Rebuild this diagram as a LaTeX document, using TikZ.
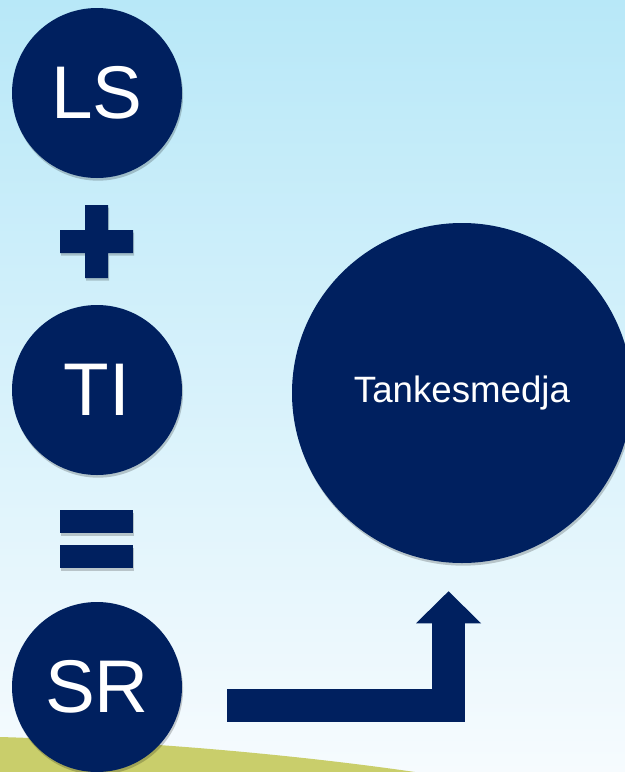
\documentclass[tikz,border=0pt]{standalone}
\usepackage{fontspec}
\setmainfont{Liberation Sans}
\usetikzlibrary{arrows.meta,shadows}
\definecolor{navy}{HTML}{00205F}
\definecolor{skytop}{HTML}{B8E8F8}
\definecolor{skybot}{HTML}{F6FBFE}
\definecolor{hill}{HTML}{C9CE6B}
\begin{document}
\begin{tikzpicture}[x=0.75pt,y=-0.75pt,
	ball/.style={circle,fill=navy,text=white,inner sep=0pt,minimum size=127.5pt,font=\fontsize{56}{60}\selectfont,drop shadow={fill=black,opacity=0.2,shadow xshift=0.8pt,shadow yshift=-2pt}},
	bigball/.style={ball,minimum size=255pt,font=\fontsize{27.5}{30}\selectfont},
	sign/.style={fill=navy,drop shadow={fill=black,opacity=0.2,shadow xshift=0.8pt,shadow yshift=-2pt}},
	bigarrow/.style={draw=navy,line width=24.75pt,line join=miter,-{Triangle[width=48.75pt,length=24pt,line width=0pt]}}]
	\useasboundingbox (0,0) rectangle (625,772);
	\shade[top color=skytop,bottom color=skybot] (0,0) rectangle (625,772);
	\fill[hill] (0,737) .. controls (140,741) and (290,754) .. (415,772) -- (0,772) -- cycle;
	
	\node[ball] (ls) at (97,93) {LS};
	\node[ball] (ti) at (97,390) {TI};
	\node[ball] (sr) at (97,687) {SR};
	\node[bigball] (tank) at (462,393) {Tankesmedja};
	
	\fill[sign] (85,205) -- (108,205) -- (108,230) -- (133,230) -- (133,253) -- (108,253) -- (108,278) -- (85,278) -- (85,253) -- (60,253) -- (60,230) -- (85,230) -- cycle;
	\fill[sign] (60,510) rectangle (133,533);
	\fill[sign] (60,545) rectangle (133,568);
	
	\draw[bigarrow] ([xshift=33.75pt,yshift=-13.9pt]sr.east) -| ([xshift=-10.1pt,yshift=-21pt]tank.south);
\end{tikzpicture}
\end{document}
